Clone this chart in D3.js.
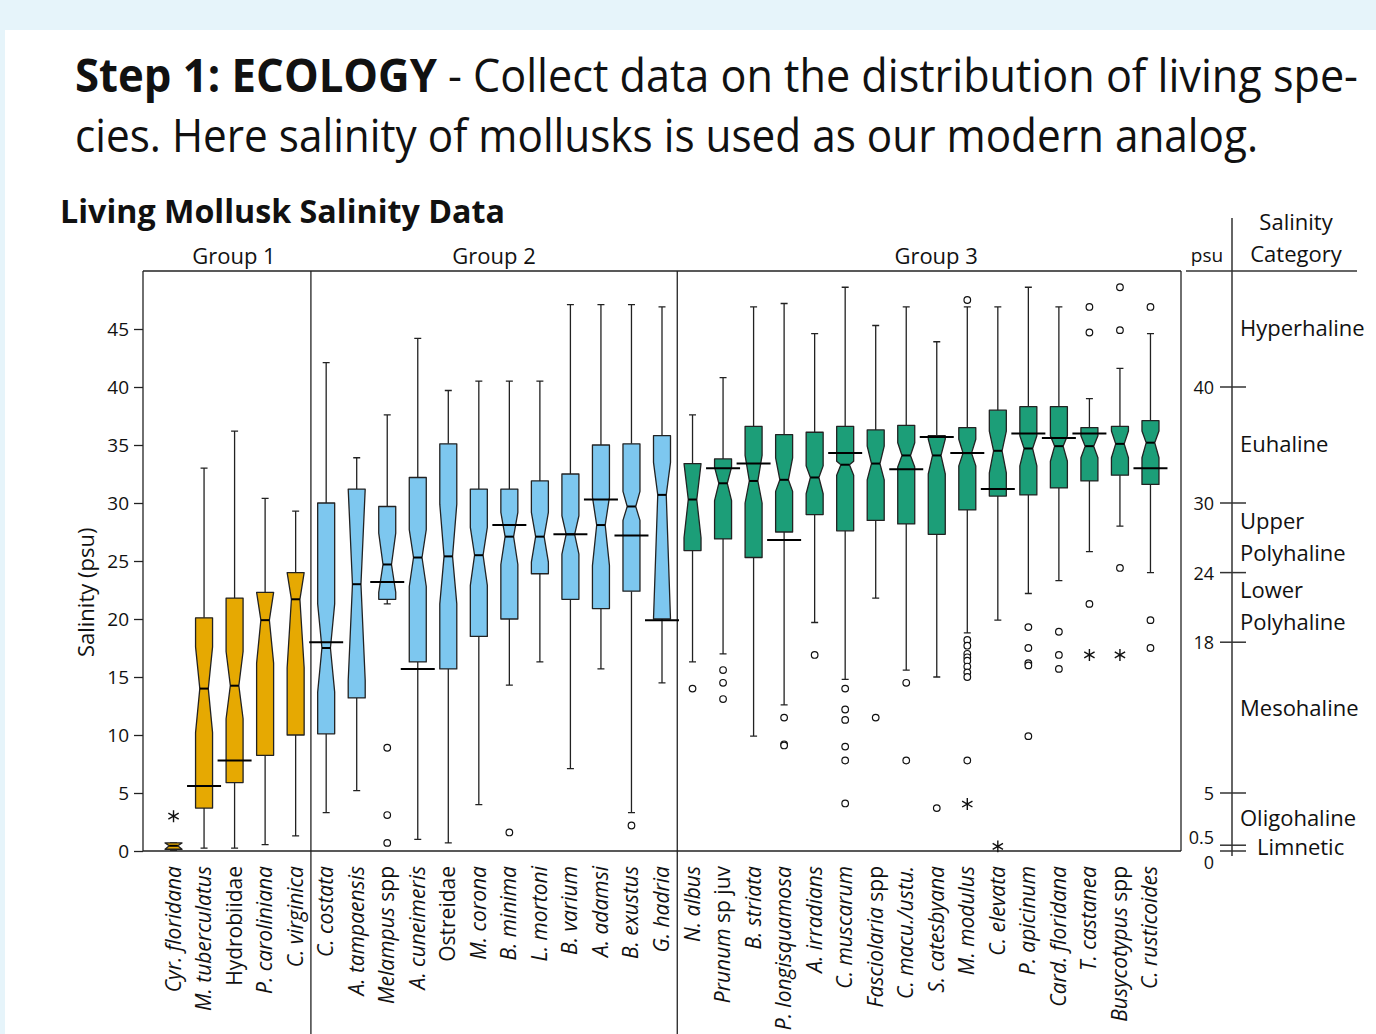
<!DOCTYPE html>
<html>
<head>
<meta charset="utf-8">
<script src="https://cdn.jsdelivr.net/npm/d3@7"></script>
<style>
  body { margin: 0; background: #fff; }
  svg text { font-family: "Open Sans", "Noto Sans", sans-serif; fill: #111; }
</style>
</head>
<body>
<svg id="chart"></svg>
<script>
// ---- data ----
const groupNames = ["Group 1", "Group 2", "Group 3"];
const groupSizes = [5, 12, 16];

const species = [
  "Cyr. floridana", "M. tuberculatus", "Hydrobiidae", "P. caroliniana", "C. virginica",
  "C. costata", "A. tampaensis", "Melampus spp", "A. cuneimeris", "Ostreidae", "M. corona",
  "B. minima", "L. mortoni", "B. varium", "A. adamsi", "B. exustus", "G. hadria",
  "N. albus", "Prunum sp juv", "B. striata", "P. longisquamosa", "A. irradians", "C. muscarum",
  "Fasciolaria spp", "C. macu./ustu.", "S. catesbyana", "M. modulus", "C. elevata",
  "P. apicinum", "Card. floridana", "T. castanea", "Busycotypus spp", "C. rusticoides"
];
// words printed upright (not italic) in the species labels
const plainWords = ["Hydrobiidae", "Ostreidae", "spp", "sp", "juv"];

const whiskerLo = [0.05, 0.25, 0.25, 0.55, 1.3,
  3.3, 5.2, 21.3, 1.0, 0.7, 4.0, 14.3, 16.3, 7.1, 15.7, 3.3, 14.5,
  16.3, 17.0, 9.9, 12.6, 19.7, 14.8, 21.8, 15.6, 15.0, 18.8, 19.9, 22.2, 23.3, 25.8, 28.0, 24.0];
const q1 = [0.15, 3.7, 5.9, 8.25, 10.0,
  10.1, 13.2, 21.7, 16.3, 15.7, 18.5, 20.0, 23.9, 21.7, 20.9, 22.4, 20.0,
  25.9, 26.9, 25.3, 27.5, 29.0, 27.6, 28.5, 28.2, 27.3, 29.4, 30.6, 30.7, 31.3, 31.9, 32.4, 31.6];
const notchLo = [0.15, 10.2, 11.4, 16.2, 15.8,
  13.7, 14.7, 22.3, 22.8, 21.3, 22.9, 24.7, 24.9, 25.6, 24.6, 28.5, 20.0,
  27.0, 30.2, 30.0, 31.0, 30.8, 32.4, 32.0, 33.1, 32.5, 33.2, 32.6, 33.2, 33.6, 33.9, 33.9, 33.9];
const median = [0.45, 14.0, 14.25, 19.9, 21.7,
  17.5, 23.0, 24.7, 25.3, 25.4, 25.5, 27.1, 27.1, 27.3, 28.1, 29.7, 30.7,
  30.3, 31.7, 31.9, 32.0, 32.2, 33.3, 33.4, 34.1, 34.1, 34.3, 34.5, 34.7, 34.9, 34.9, 35.1, 35.2];
const notchHi = [0.7, 17.6, 17.2, 22.3, 24.0,
  21.3, 31.2, 27.4, 27.7, 29.9, 27.9, 29.2, 29.2, 28.9, 30.5, 31.0, 33.5,
  33.4, 33.1, 34.1, 33.9, 33.2, 33.6, 34.9, 35.2, 35.5, 35.5, 36.2, 35.8, 35.8, 35.8, 36.2, 36.2];
const q3 = [0.7, 20.1, 21.8, 22.3, 24.0,
  30.0, 31.2, 29.7, 32.2, 35.1, 31.2, 31.2, 31.9, 32.5, 35.0, 35.1, 35.8,
  33.4, 33.8, 36.6, 35.9, 36.1, 36.6, 36.3, 36.7, 35.8, 36.5, 38.0, 38.3, 38.3, 36.5, 36.6, 37.1];
const whiskerHi = [0.7, 33.0, 36.2, 30.4, 29.3,
  42.1, 33.9, 37.6, 44.2, 39.7, 40.5, 40.5, 40.5, 47.1, 47.1, 47.1, 46.9,
  37.6, 40.8, 46.9, 47.2, 44.6, 48.6, 45.3, 46.9, 43.9, 46.9, 46.9, 48.6, 46.9, 39.0, 41.6, 44.6];
const means = [null, 5.6, 7.8, null, null,
  18.0, null, 23.2, 15.7, null, null, 28.1, null, 27.3, 30.3, 27.2, 19.9,
  null, 33.0, 33.4, 26.8, null, 34.3, null, 32.9, 35.7, 34.3, 31.2, 36.0, 35.6, 36.0, null, 33.0];
const outliers = [[], [], [], [], [],
  [], [], [8.9, 3.1, 0.7], [], [], [], [1.6], [], [], [], [2.2], [],
  [14.0], [15.6, 14.5, 13.1], [], [11.5, 9.2, 9.1], [16.9], [14.0, 12.2, 11.3, 9.0, 7.8, 4.1],
  [11.5], [14.5, 7.8], [3.7], [47.5, 18.2, 17.7, 17.0, 16.7, 16.4, 15.9, 15.4, 15.0, 7.8], [],
  [19.3, 17.5, 16.2, 16.0, 9.9], [18.9, 16.9, 15.7], [46.9, 44.7, 21.3], [48.6, 44.9, 24.4],
  [46.9, 19.9, 17.5]];
const extremes = [[3.0], [], [], [], [],
  [], [], [], [], [], [], [], [], [], [], [], [],
  [], [], [], [], [], [], [], [], [], [4.05], [0.4], [], [], [16.9], [16.9], []];

const groupColors = ["#e6a902", "#7dc7ef", "#1c9e78"];
const leftTicks = [0, 5, 10, 15, 20, 25, 30, 35, 40, 45];
const rightTicks = [40, 30, 24, 18, 5, 0.5, 0];
const categoryNames = ["Limnetic", "Oligohaline", "Mesohaline", "Lower Polyhaline",
  "Upper Polyhaline", "Euhaline", "Hyperhaline"];
const categoryBounds = [0, 0.5, 5, 18, 24, 30, 40, 50];

// ---- layout ----
const width = 1376, height = 1034;
const plotLeft = 143, plotRight = 1181, plotTop = 271, plotBottom = 851;
const boxW = 17, meanW = 34, capW = 7;
const ink = "#222";

const svg = d3.select("#chart").attr("width", width).attr("height", height);

svg.append("rect").attr("width", width).attr("height", height).attr("fill", "#e6f4fa");
svg.append("rect").attr("x", 5).attr("y", 30).attr("width", width - 5).attr("height", height - 30)
  .attr("fill", "#fff");

// titles
svg.append("text").attr("x", 75).attr("y", 92).attr("font-size", 46).attr("font-weight", 700)
  .attr("textLength", 362).attr("lengthAdjust", "spacingAndGlyphs").text("Step 1: ECOLOGY");
svg.append("text").attr("x", 448).attr("y", 92).attr("font-size", 46)
  .attr("textLength", 910).attr("lengthAdjust", "spacingAndGlyphs")
  .text("- Collect data on the distribution of living spe-");
svg.append("text").attr("x", 75).attr("y", 152).attr("font-size", 46)
  .attr("textLength", 1183).attr("lengthAdjust", "spacingAndGlyphs")
  .text("cies. Here salinity of mollusks is used as our modern analog.");
svg.append("text").attr("x", 60).attr("y", 223).attr("font-size", 32).attr("font-weight", 700)
  .attr("fill", "#222").attr("textLength", 445).attr("lengthAdjust", "spacingAndGlyphs")
  .text("Living Mollusk Salinity Data");

const y = d3.scaleLinear().domain([0, 50]).range([plotBottom, plotTop]);
const x = d3.scalePoint().domain(species).range([plotLeft, plotRight]).padding(1);

const groupOf = [];
groupSizes.forEach((n, g) => { for (let k = 0; k < n; k++) groupOf.push(g); });

const data = species.map((name, i) => ({
  name, i, g: groupOf[i],
  lo: whiskerLo[i], q1: q1[i], nLo: Math.max(notchLo[i], q1[i]), med: median[i],
  nHi: Math.min(notchHi[i], q3[i]), q3: q3[i], hi: whiskerHi[i], mean: means[i],
  out: outliers[i], ext: extremes[i]
}));

// group boundaries
const bounds = [plotLeft];
let acc = 0;
groupSizes.forEach((n, g) => {
  acc += n;
  if (g < groupSizes.length - 1) bounds.push((x(species[acc - 1]) + x(species[acc])) / 2);
});
bounds.push(plotRight);

// frame
const frame = svg.append("g").attr("stroke", ink).attr("stroke-width", 1.3).attr("fill", "none");
frame.append("line").attr("x1", plotLeft).attr("x2", plotRight).attr("y1", plotTop).attr("y2", plotTop);
frame.append("line").attr("x1", plotLeft).attr("x2", plotRight).attr("y1", plotBottom).attr("y2", plotBottom);
frame.append("line").attr("x1", plotLeft).attr("x2", plotLeft).attr("y1", plotTop).attr("y2", plotBottom);
frame.append("line").attr("x1", plotRight).attr("x2", plotRight).attr("y1", plotTop).attr("y2", plotBottom);
frame.selectAll(".divider").data(bounds.slice(1, -1)).enter().append("line")
  .attr("x1", d => d).attr("x2", d => d).attr("y1", plotTop).attr("y2", height);

svg.selectAll(".group-label").data(groupNames).enter().append("text")
  .attr("x", (d, g) => (bounds[g] + bounds[g + 1]) / 2 + (g === 1 ? 0 : 7))
  .attr("y", 264).attr("text-anchor", "middle").attr("font-size", 22).text(d => d);

// left axis
const yAxis = svg.append("g").attr("transform", `translate(${plotLeft},0)`)
  .call(d3.axisLeft(y).tickValues(leftTicks).tickSize(9).tickPadding(5));
yAxis.select(".domain").remove();
yAxis.selectAll(".tick line").attr("stroke", ink).attr("stroke-width", 1.3);
yAxis.selectAll(".tick text").attr("font-size", 19).attr("font-family", "Open Sans").attr("fill", "#111");

svg.append("text").attr("transform", `translate(94,${y(22.3)}) rotate(-90)`)
  .attr("text-anchor", "middle").attr("font-size", 22).text("Salinity (psu)");

// boxes
const marks = svg.append("g");
const cx = d => x(d.name);

marks.selectAll(".whisker").data(data).enter().append("path")
  .attr("fill", "none").attr("stroke", ink).attr("stroke-width", 1.3)
  .attr("d", d => `M${cx(d)},${y(d.q1)}V${y(d.lo)}M${cx(d) - capW / 2},${y(d.lo)}h${capW}` +
    `M${cx(d)},${y(d.q3)}V${y(d.hi)}M${cx(d) - capW / 2},${y(d.hi)}h${capW}`);

marks.selectAll(".box").data(data).enter().append("path")
  .attr("fill", d => groupColors[d.g]).attr("stroke", ink).attr("stroke-width", 1.3)
  .attr("stroke-linejoin", "round")
  .attr("d", d => {
    const l = cx(d) - boxW / 2, r = cx(d) + boxW / 2;
    const nl = cx(d) - boxW / 4, nr = cx(d) + boxW / 4;
    return `M${l},${y(d.q3)}H${r}V${y(d.nHi)}L${nr},${y(d.med)}L${r},${y(d.nLo)}V${y(d.q1)}` +
      `H${l}V${y(d.nLo)}L${nl},${y(d.med)}L${l},${y(d.nHi)}Z`;
  });

marks.selectAll(".median").data(data).enter().append("line")
  .attr("x1", d => cx(d) - boxW / 4).attr("x2", d => cx(d) + boxW / 4)
  .attr("y1", d => y(d.med)).attr("y2", d => y(d.med))
  .attr("stroke", "#000").attr("stroke-width", 2);

marks.selectAll(".mean").data(data.filter(d => d.mean !== null)).enter().append("line")
  .attr("x1", d => cx(d) - meanW / 2).attr("x2", d => cx(d) + meanW / 2)
  .attr("y1", d => y(d.mean)).attr("y2", d => y(d.mean))
  .attr("stroke", "#000").attr("stroke-width", 2);

const outPts = data.flatMap(d => d.out.map(v => ({ x: cx(d), v })));
marks.selectAll(".outlier").data(outPts).enter().append("circle")
  .attr("cx", d => d.x).attr("cy", d => y(d.v)).attr("r", 3.3)
  .attr("fill", "#fff").attr("stroke", "#111").attr("stroke-width", 1.2);

const extPts = data.flatMap(d => d.ext.map(v => ({ x: cx(d), v })));
const star = d3.symbol().type(d3.symbolAsterisk).size(100);
marks.selectAll(".extreme").data(extPts).enter().append("path")
  .attr("transform", d => `translate(${d.x},${y(d.v)})`).attr("d", star)
  .attr("fill", "none").attr("stroke", "#111").attr("stroke-width", 1.4);

// species labels
const labels = svg.selectAll(".species").data(data).enter().append("text")
  .attr("transform", d => `translate(${cx(d) + 7},866) rotate(-90)`)
  .attr("text-anchor", "end").attr("font-size", 21);
labels.each(function (d) {
  const t = d3.select(this);
  d.name.split(" ").forEach((w, k) => {
    t.append("tspan").attr("font-style", plainWords.includes(w) ? "normal" : "italic")
      .text((k ? " " : "") + w);
  });
});

// right-hand salinity category scale
const catX = 1232;
const right = svg.append("g").attr("stroke", "#333").attr("stroke-width", 1.5);
right.append("line").attr("x1", catX).attr("x2", catX).attr("y1", 218).attr("y2", 856);
right.append("line").attr("x1", 1186).attr("x2", 1357).attr("y1", plotTop).attr("y2", plotTop);
right.selectAll(".rtick").data(rightTicks).enter().append("line")
  .attr("x1", 1220).attr("x2", 1246).attr("y1", d => y(d)).attr("y2", d => y(d));

svg.selectAll(".rlabel").data(rightTicks).enter().append("text")
  .attr("x", 1214).attr("y", d => d === 0 ? y(d) + 18 : d === 0.5 ? y(d) - 1 : y(d) + 7)
  .attr("text-anchor", "end").attr("font-size", 18).text(d => d);

svg.append("text").attr("x", 1207).attr("y", 262).attr("text-anchor", "middle")
  .attr("font-size", 19).text("psu");
svg.append("text").attr("x", 1296).attr("y", 230).attr("text-anchor", "middle")
  .attr("font-size", 22).text("Salinity");
svg.append("text").attr("x", 1296).attr("y", 262).attr("text-anchor", "middle")
  .attr("font-size", 22).text("Category");

const cats = svg.selectAll(".cat").data(categoryNames).enter().append("text")
  .attr("font-size", 22)
  .attr("transform", (d, k) => `translate(${d === "Limnetic" ? 1257 : 1240},` +
    `${y((categoryBounds[k] + categoryBounds[k + 1]) / 2) - (d === "Mesohaline" ? 9 : 0)})`);
cats.each(function (d) {
  const parts = d.split(" ");
  const t = d3.select(this);
  parts.forEach((p, k) => {
    t.append("tspan").attr("x", 0)
      .attr("y", (k - (parts.length - 1) / 2) * 32 + 7).text(p);
  });
});
</script>
</body>
</html>
